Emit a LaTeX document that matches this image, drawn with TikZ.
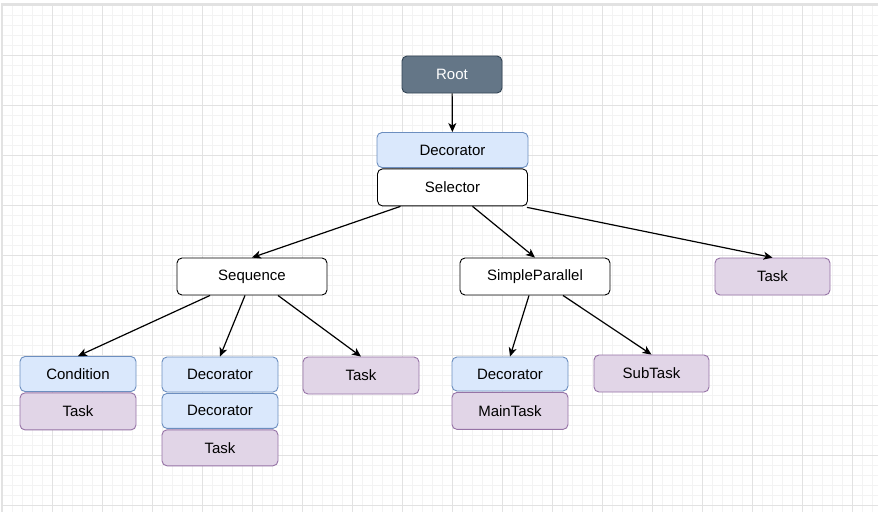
\documentclass[tikz,border=0pt]{standalone}
\usepackage{fontspec}
\setmainfont{Liberation Sans}
\usetikzlibrary{arrows.meta,positioning}

\definecolor{rootfill}{HTML}{647687}
\definecolor{rootline}{HTML}{314354}
\definecolor{decofill}{HTML}{DAE8FC}
\definecolor{decoline}{HTML}{6C8EBF}
\definecolor{taskfill}{HTML}{E1D5E7}
\definecolor{taskline}{HTML}{9673A6}
\definecolor{gridminor}{HTML}{F3F3F3}
\definecolor{gridmajor}{HTML}{E2E2E2}

\begin{document}
\begin{tikzpicture}[x=1pt,y=-1pt,node distance=0pt,>={Stealth[length=9pt,width=8pt,inset=2.5pt]}]
		\tikzstyle{box}=[rectangle, rounded corners=5pt, line width=0.9pt, minimum height=36pt, inner sep=0pt, font=\fontsize{15}{18}\selectfont]
		\tikzstyle{root}=[box, fill=rootfill, draw=rootline, text=white, minimum width=100pt, minimum height=37pt]
		\tikzstyle{deco}=[box, fill=decofill, draw=decoline]
		\tikzstyle{task}=[box, fill=taskfill, draw=taskline]
		\tikzstyle{comp}=[box, fill=white, draw=black, minimum width=150pt, minimum height=37pt]
		\tikzstyle{link}=[->, line width=1.2pt]

		% background grid
		\useasboundingbox (0,0) rectangle (878,512);
		\fill[white] (0,0) rectangle (878,512);
		\foreach \x in {2,12,...,872} \draw[gridminor] (\x,5) -- (\x,512);
		\foreach \y in {5,15,...,505} \draw[gridminor] (2,\y) -- (878,\y);
		\foreach \x in {2,52,...,852} \draw[gridmajor] (\x,5) -- (\x,512);
		\foreach \y in {5,55,...,505} \draw[gridmajor] (2,\y) -- (878,\y);
		\draw[gridmajor, line width=1.5pt] (2,512) -- (2,4) -- (878,4);

		% top of the tree
		\node [root] (root) at (452,74.5) {Root};
		\node [deco, minimum width=151pt, minimum height=35pt] (dec0) at (452.5,150) {Decorator};
		\node [comp] (sel) [below=0.5pt of dec0] {Selector};

		% second row
		\node [comp] (seq) at (252,276.5) {Sequence};
		\node [comp] (par) at (535,276.5) {SimpleParallel};
		\node [task, minimum width=115pt, minimum height=37pt] (task0) at (772.5,276.5) {Task};

		% leaves
		\node [deco, minimum width=116pt, minimum height=35pt] (cond) at (78,374) {Condition};
		\node [task, minimum width=116pt, minimum height=37pt] (task1) [below=0.5pt of cond] {Task};

		\node [deco, minimum width=116pt, minimum height=35pt] (dec1) at (220,374.5) {Decorator};
		\node [deco, minimum width=116pt, minimum height=35pt] (dec2) [below=0.5pt of dec1] {Decorator};
		\node [task, minimum width=116pt, minimum height=36pt] (task2) [below=0.5pt of dec2] {Task};

		\node [task, minimum width=116pt, minimum height=37pt] (task3) at (361,375.5) {Task};

		\node [deco, minimum width=116pt, minimum height=34pt] (dec3) at (510,374) {Decorator};
		\node [task, minimum width=116pt, minimum height=37pt] (main) [below=0.5pt of dec3] {MainTask};

		\node [task, minimum width=115pt, minimum height=37pt] (sub) at (651.5,373.5) {SubTask};

		% connectors
		\draw [link] (root) -- (dec0);
		\draw [link] ([xshift=-52pt]sel.south) -- (seq.north);
		\draw [link] ([xshift=20pt]sel.south) -- (par.north);
		\draw [link] ([xshift=-1pt,yshift=-1pt]sel.south east) -- (task0.north);
		\draw [link] ([xshift=-42pt]seq.south) -- (cond.north);
		\draw [link] ([xshift=-7pt]seq.south) -- (dec1.north);
		\draw [link] ([xshift=26pt]seq.south) -- (task3.north);
		\draw [link] ([xshift=-6pt]par.south) -- (dec3.north);
		\draw [link] ([xshift=28pt]par.south) -- (sub.north);
	\end{tikzpicture}
\end{document}
